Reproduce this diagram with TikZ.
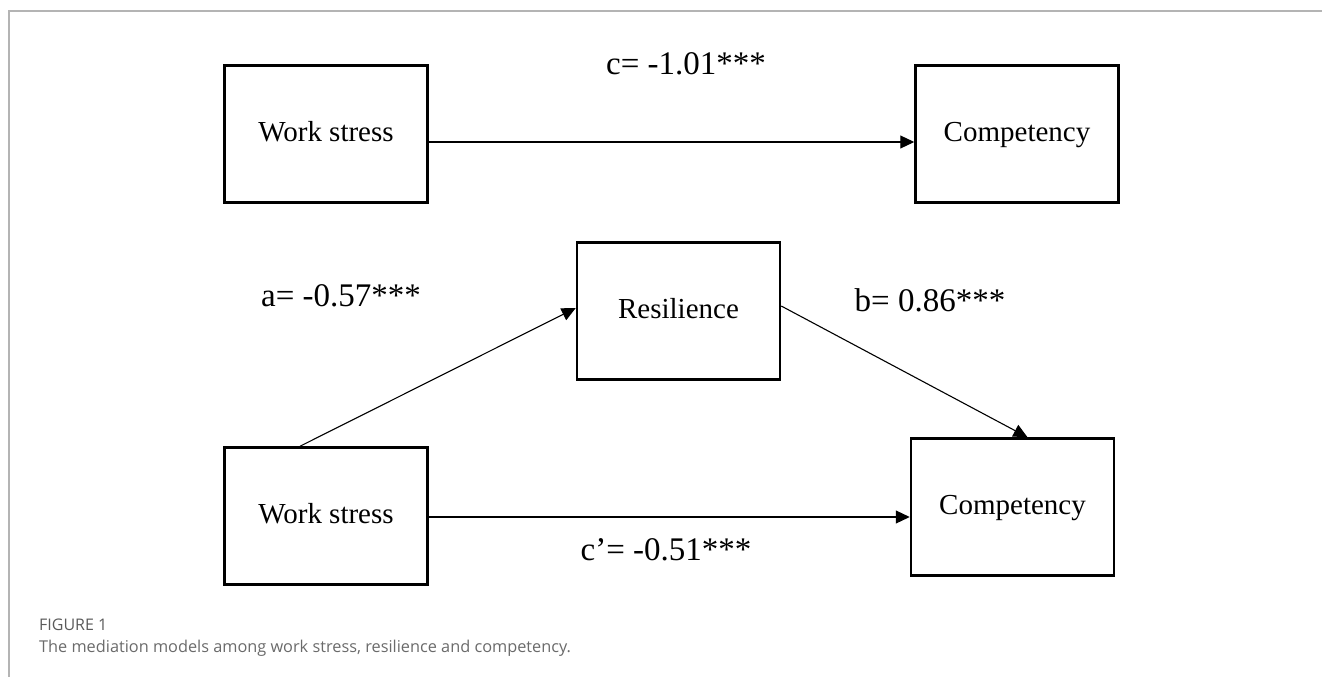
\documentclass[tikz,border=0pt]{standalone}
\usepackage{fontspec}
\setmainfont{Liberation Serif}
\newfontfamily\capfont{Open Sans}
\usetikzlibrary{arrows.meta}
\definecolor{framegray}{HTML}{B4B4B4}
\definecolor{capgray}{HTML}{6A6A6A}
\begin{document}
\begin{tikzpicture}[x=1pt, y=-1pt, line join=miter,
	varbox/.style={draw, line width=2.5pt, minimum width=203pt, minimum height=137pt, inner sep=0pt, text height=19pt, text depth=5pt, font=\fontsize{29}{34}\selectfont},
	coef/.style={font=\fontsize{33}{38}\selectfont, inner sep=0pt},
	path/.style={-{Triangle[length=14pt, width=13pt]}, line width=1.1pt},
	caption/.style={text=capgray, anchor=west, inner sep=0pt}]
	\useasboundingbox (0, 0) rectangle (1322, 677);

	% khung
	\draw[framegray, line width=1.5pt] (9, 677) -- (9, 11) -- (1322, 11);

	% Mô hình tổng
	\node[varbox] (ws1) at (326, 134) {Work stress};
	\node[varbox] (comp1) at (1017, 134) {Competency};
	\node[coef] (c) at (686, 64) {c= -1.01***};
	\draw[path] ([yshift=-8pt]ws1.east) -- ([yshift=-8pt]comp1.west);

	% Mô hình trung gian
	\node[varbox] (res) at (678.5, 311) {Resilience};
	\node[varbox] (ws2) at (326, 516) {Work stress};
	\node[varbox] (comp2) at (1012.5, 507) {Competency};
	\node[coef] (a) at (341, 296) {a= -0.57***};
	\node[coef] (b) at (930, 300) {b= 0.86***};
	\node[coef] (cp) at (666, 550) {c’= -0.51***};
	\draw[path] ([xshift=-26pt]ws2.north) -- ([yshift=3pt]res.west);
	\draw[path] ([yshift=5pt]res.east) -- ([xshift=15pt]comp2.north);
	\draw[path] ([yshift=-1pt]ws2.east) -- ([yshift=-10pt]comp2.west);

	% chú thích
	\node[caption, text=capgray!85!black, font=\capfont\fontsize{16}{18}\selectfont] (fig) at (39, 625) {FIGURE 1};
	\node[caption, font=\capfont\fontsize{16.3}{19}\selectfont] (cap) at (39, 648) {The mediation models among work stress, resilience and competency.};
\end{tikzpicture}
\end{document}
